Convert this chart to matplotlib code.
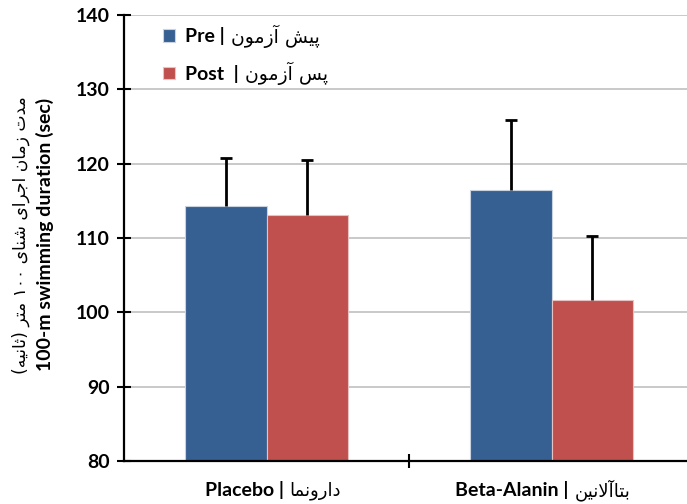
import numpy as np
import matplotlib
matplotlib.use("Agg")
import matplotlib.pyplot as plt
from matplotlib.transforms import blended_transform_factory

# data
groups_en = ["Placebo", "Beta-Alanin"]
groups_fa = ["دارونما", "بتاآلانین"]
series_en = ["Pre", "Post"]
series_fa = ["پیش آزمون", "پس آزمون"]
pre_mean = [114.3, 116.5]
pre_err = [6.5, 9.4]
post_mean = [113.1, 101.7]
post_err = [7.4, 8.6]
ylabel_fa = "مدت زمان اجرای شنای ۱۰۰ متر (ثانیه)"
ylabel_en = "100-m swimming duration (sec)"

# --- minimal Persian shaping (matplotlib has no RTL / joining support) ---
# forms: isolated, final, initial, medial  (right-joining letters have 2)
FORMS = {
    'ا': ('\uFE8D', '\uFE8E'), 'آ': ('\uFE81', '\uFE82'),
    'د': ('\uFEA9', '\uFEAA'), 'ر': ('\uFEAD', '\uFEAE'),
    'ز': ('\uFEAF', '\uFEB0'), 'و': ('\uFEED', '\uFEEE'),
    'ب': ('\uFE8F', '\uFE90', '\uFE91', '\uFE92'),
    'ت': ('\uFE95', '\uFE96', '\uFE97', '\uFE98'),
    'ث': ('\uFE99', '\uFE9A', '\uFE9B', '\uFE9C'),
    'ج': ('\uFE9D', '\uFE9E', '\uFE9F', '\uFEA0'),
    'س': ('\uFEB1', '\uFEB2', '\uFEB3', '\uFEB4'),
    'ش': ('\uFEB5', '\uFEB6', '\uFEB7', '\uFEB8'),
    'ل': ('\uFEDD', '\uFEDE', '\uFEDF', '\uFEE0'),
    'م': ('\uFEE1', '\uFEE2', '\uFEE3', '\uFEE4'),
    'ن': ('\uFEE5', '\uFEE6', '\uFEE7', '\uFEE8'),
    'ه': ('\uFEE9', '\uFEEA', '\uFEEB', '\uFEEC'),
    'ی': ('\uFBFC', '\uFBFD', '\uFBFE', '\uFBFF'),
    'پ': ('\uFB56', '\uFB57', '\uFB58', '\uFB59'),
}
LAM_ALEF = {'ا': ('\uFEFB', '\uFEFC'), 'آ': ('\uFEF5', '\uFEF6')}


def fa(text):
    out = []
    i = 0
    while i < len(text):
        c = text[i]
        if c not in FORMS:
            out.append(c)
            i += 1
            continue
        prev = text[i - 1] if i > 0 else ''
        joins_prev = prev in FORMS and len(FORMS[prev]) == 4
        if c == 'ل' and i + 1 < len(text) and text[i + 1] in LAM_ALEF:
            out.append(LAM_ALEF[text[i + 1]][1 if joins_prev else 0])
            i += 2
            continue
        nxt = text[i + 1] if i + 1 < len(text) else ''
        joins_next = len(FORMS[c]) == 4 and nxt in FORMS
        if joins_prev and joins_next:
            out.append(FORMS[c][3])
        elif joins_prev:
            out.append(FORMS[c][1])
        elif joins_next:
            out.append(FORMS[c][2])
        else:
            out.append(FORMS[c][0])
        i += 1
    vis = ''.join(reversed(out))
    # keep digit runs left-to-right, mirror brackets
    res, run = [], []
    for ch in vis + ' ':
        if ch.isdigit():
            run.append(ch)
            continue
        if run:
            res.extend(reversed(run))
            run = []
        res.append({'(': ')', ')': '('}.get(ch, ch))
    return ''.join(res[:-1])


LATIN = ["Lato", "DejaVu Sans"]
ARAB = "DejaVu Sans"
blue = "#376092"
red = "#C0504D"

fig = plt.figure(figsize=(6.87, 5.04), dpi=100)
ax = fig.add_axes([0.1805, 0.0853, 0.8195, 0.8847])

x = np.arange(len(groups_en))
w = 0.285
err_kw = dict(ecolor="black", elinewidth=2, capsize=4, capthick=2)
b1 = ax.bar(x - w / 2, pre_mean, w, yerr=[np.zeros(2), pre_err], color=blue,
            edgecolor="#c9d3e0", linewidth=0.8, error_kw=err_kw, label=series_en[0] + " |")
b2 = ax.bar(x + w / 2, post_mean, w, yerr=[np.zeros(2), post_err], color=red,
            edgecolor="#e6c3c2", linewidth=0.8, error_kw=err_kw, label=series_en[1] + "  |")
# only the upper cap is drawn in the original
for b in (b1, b2):
    b.errorbar.lines[1][0].set_visible(False)

ax.set_ylim(80, 140)
ax.set_xlim(-0.5, 1.475)
ax.set_yticks(np.arange(80, 141, 10))
ax.yaxis.grid(True, color="#c0c0c0", linewidth=1.2)
ax.set_axisbelow(True)
for s in ["top", "right"]:
    ax.spines[s].set_visible(False)
for s in ["left", "bottom"]:
    ax.spines[s].set_linewidth(1.6)
ax.tick_params(axis="y", direction="inout", length=10, width=1.5, pad=5)
ax.set_xticks([0.5])
ax.set_xticklabels([""])
ax.tick_params(axis="x", direction="inout", length=10, width=1.5)
for lab in ax.get_yticklabels():
    lab.set_family(LATIN)
    lab.set_fontweight("bold")
    lab.set_fontsize(14)

leg = ax.legend(loc="upper left", bbox_to_anchor=(0.038, 1.012), frameon=False,
                handlelength=0.6, handleheight=0.6, handletextpad=0.55,
                labelspacing=1.0, prop=dict(family=LATIN, weight="bold", size=14))

# category labels: bold latin part + persian part
trans = blended_transform_factory(ax.transData, ax.transAxes)
for xi, en, far in zip(x, groups_en, groups_fa):
    ax.text(xi + 0.06, -0.066, en + " |", transform=trans, ha="right", va="center",
            family=LATIN, fontweight="bold", fontsize=14)
    ax.text(xi + 0.08, -0.066, fa(far), transform=trans, ha="left", va="center",
            family=ARAB, fontsize=13)

# y label, two lines
fig.text(0.031, 0.534, fa(ylabel_fa), rotation=90, ha="center", va="center",
         family=ARAB, fontsize=12.3)
fig.text(0.066, 0.534, ylabel_en, rotation=90, ha="center", va="center",
         family=LATIN, fontweight="bold", fontsize=14)

# persian part of legend entries right after the latin text
fig.canvas.draw()
inv = fig.transFigure.inverted()
for t, far in zip(leg.get_texts(), series_fa):
    bb = t.get_window_extent()
    px, py = inv.transform((bb.x1 + 6, (bb.y0 + bb.y1) / 2))
    fig.text(px, py, fa(far), ha="left", va="center", family=ARAB, fontsize=13.5)

fig.savefig("out.png", dpi=100)
